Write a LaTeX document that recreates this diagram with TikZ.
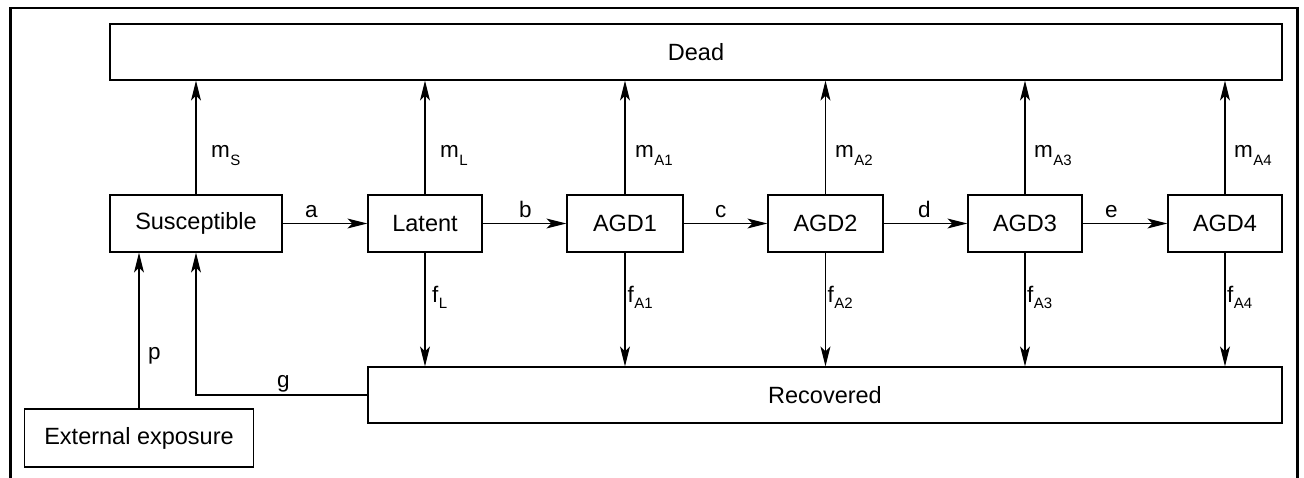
\documentclass[tikz,border=0pt]{standalone}
\usepackage{fontspec}
\setmainfont{Liberation Sans}
\usetikzlibrary{arrows.meta}

% rate label: main letter with a lowered subscript
\newcommand{\ratelab}[3]{#1\kern0.5pt{\fontsize{15}{15}\selectfont\raisebox{-#3}{#2}}}

\begin{document}
\begin{tikzpicture}[x=1pt,y=-1pt,
  box/.style={draw,line width=1.3pt,inner sep=0pt,font=\fontsize{23.5}{23.5}\selectfont},
  flow/.style={line width=1.1pt,-{Stealth[length=20pt,width=10pt,inset=5pt]}},
  lab/.style={anchor=base west,inner sep=0pt,font=\fontsize{22.5}{22.5}\selectfont},
  frame/.style={line width=2.3pt}]
\useasboundingbox (0,0) rectangle (1304,477);
\clip (0,0) rectangle (1304,477);

% outer frame (bottom edge runs off the page)
\draw[frame] (10.5,485) -- (10.5,8) -- (1297.5,8) -- (1297.5,485);

% compartments
\node[box,minimum width=1172pt,minimum height=56pt] (dead) at (696,52) {Dead};
\node[box,minimum width=172pt,minimum height=57pt] (S) at (196,223.5) {Susceptible};
\node[box,minimum width=114pt,minimum height=57pt] (L) at (425,223.5) {Latent};
\node[box,minimum width=116pt,minimum height=57pt] (A1) at (625,223.5) {AGD1};
\node[box,minimum width=115pt,minimum height=57pt] (A2) at (825.5,223.5) {AGD2};
\node[box,minimum width=114pt,minimum height=57pt] (A3) at (1025,223.5) {AGD3};
\node[box,minimum width=114pt,minimum height=57pt] (A4) at (1225,223.5) {AGD4};
\node[box,minimum width=914pt,minimum height=56pt] (R) at (825,395) {Recovered};
\node[box,minimum width=229pt,minimum height=58pt] (ext) at (139,438) {External exposure};

% progression
\draw[flow] (S) -- (L);
\draw[flow] (L) -- (A1);
\draw[flow] (A1) -- (A2);
\draw[flow] (A2) -- (A3);
\draw[flow] (A3) -- (A4);

% mortality
\foreach \n in {S,L,A1,A2,A3,A4}
  \draw[flow] (\n.north) -- (\n.north |- dead.south);

% recovery
\foreach \n in {L,A1,A2,A3,A4}
  \draw[flow] (\n.south) -- (\n.south |- R.north);

% external exposure and loss of immunity
\draw[flow] (ext.north) -- (ext.north |- S.south);
\draw[flow] (R.west) -| (S.south);

% rate labels
\node[lab] (la) at (305,217) {a};
\node[lab] (lb) at (519,217) {b};
\node[lab] (lc) at (715,217) {c};
\node[lab] (ld) at (918,217) {d};
\node[lab] (le) at (1105,217) {e};
\node[lab] (lp) at (148,359.5) {p};
\node[lab] (lg) at (277,387) {g};

\node[lab] (mS) at (211,157.5) {\ratelab{m}{S}{8pt}};
\node[lab] (mL) at (440,157.5) {\ratelab{m}{L}{8pt}};
\node[lab] (mA1) at (635,157.5) {\ratelab{m}{A1}{8pt}};
\node[lab] (mA2) at (835,157.5) {\ratelab{m}{A2}{8pt}};
\node[lab] (mA3) at (1034,157.5) {\ratelab{m}{A3}{8pt}};
\node[lab] (mA4) at (1234,157.5) {\ratelab{m}{A4}{8pt}};

\node[lab] (fL) at (432,302) {\ratelab{f}{L}{6pt}};
\node[lab] (fA1) at (627.5,302) {\ratelab{f}{A1}{6pt}};
\node[lab] (fA2) at (827.5,302) {\ratelab{f}{A2}{6pt}};
\node[lab] (fA3) at (1027,302) {\ratelab{f}{A3}{6pt}};
\node[lab] (fA4) at (1227,302) {\ratelab{f}{A4}{6pt}};
\end{tikzpicture}
\end{document}
